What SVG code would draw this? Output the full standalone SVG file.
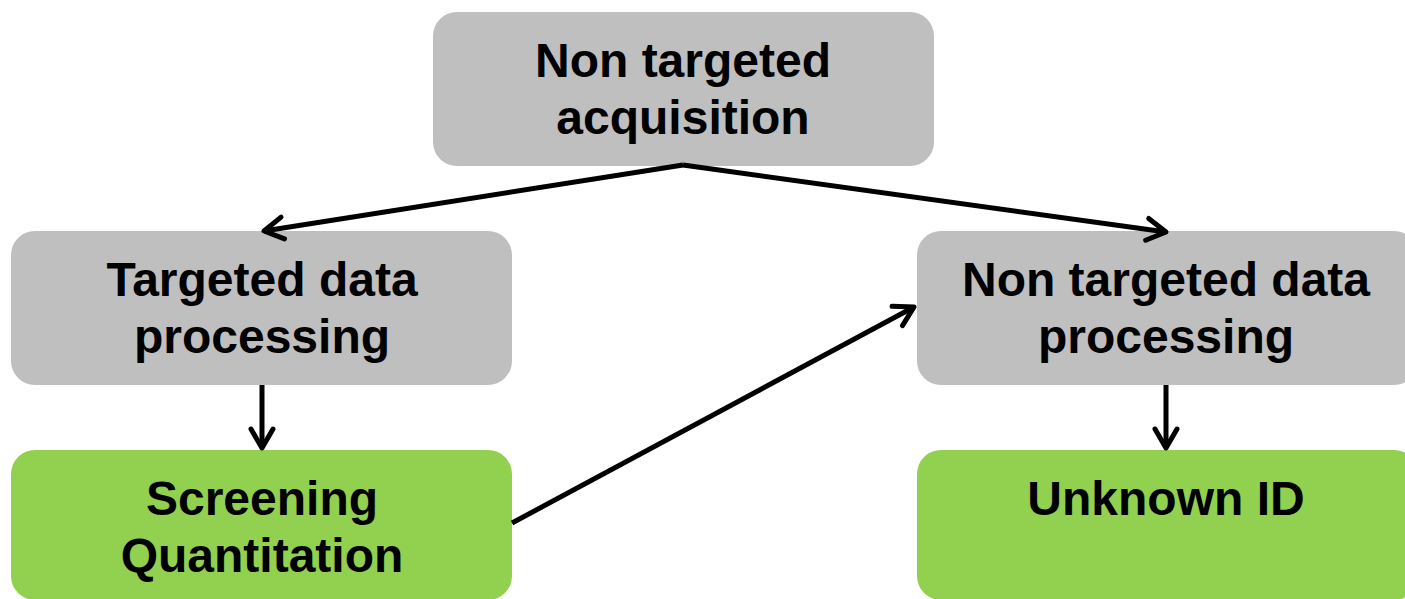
<svg xmlns="http://www.w3.org/2000/svg" width="1405" height="599" viewBox="0 0 1405 599">
<defs>
<style>
.gray{fill:#BFBFBF}
.green{fill:#92D050}
.t{font-family:"Liberation Sans",Arial,sans-serif;font-weight:bold;font-size:48px;fill:#000;text-anchor:middle}
.c{stroke:#000;stroke-width:5;fill:none}
</style>
<marker id="ah" viewBox="0 0 28 30" refX="23" refY="15" markerWidth="28" markerHeight="30" markerUnits="userSpaceOnUse" orient="auto">
<path d="M4,4 L23,15 L4,26" fill="none" stroke="#000" stroke-width="5" stroke-linecap="round" stroke-linejoin="round"/>
</marker>
</defs>
<rect width="1405" height="599" fill="#fff"/>
<g id="n-acq"><rect class="gray" x="433" y="12" width="501" height="154" rx="24"/><text class="t" x="683" y="77">Non targeted</text><text class="t" x="683" y="134">acquisition</text></g>
<g id="n-tdp"><rect class="gray" x="11" y="231" width="501" height="154" rx="24"/><text class="t" x="262" y="296">Targeted data</text><text class="t" x="262" y="353">processing</text></g>
<g id="n-ntdp"><rect class="gray" x="917" y="231" width="501" height="154" rx="24"/><text class="t" x="1166" y="296">Non targeted data</text><text class="t" x="1166" y="353">processing</text></g>
<g id="n-sq"><rect class="green" x="11" y="450" width="501" height="150" rx="24"/><text class="t" x="262" y="515">Screening</text><text class="t" x="262" y="572">Quantitation</text></g>
<g id="n-uid"><rect class="green" x="917" y="450" width="501" height="150" rx="24"/><text class="t" x="1166" y="515">Unknown ID</text></g>
<g id="connectors">
<line class="c" x1="683" y1="165" x2="264" y2="231" marker-end="url(#ah)"/>
<line class="c" x1="683" y1="165" x2="1166" y2="232" marker-end="url(#ah)"/>
<line class="c" x1="262" y1="385" x2="262" y2="448" marker-end="url(#ah)"/>
<line class="c" x1="1166" y1="385" x2="1166" y2="448" marker-end="url(#ah)"/>
<line class="c" x1="512" y1="523" x2="914" y2="307" marker-end="url(#ah)"/>
</g>
</svg>
